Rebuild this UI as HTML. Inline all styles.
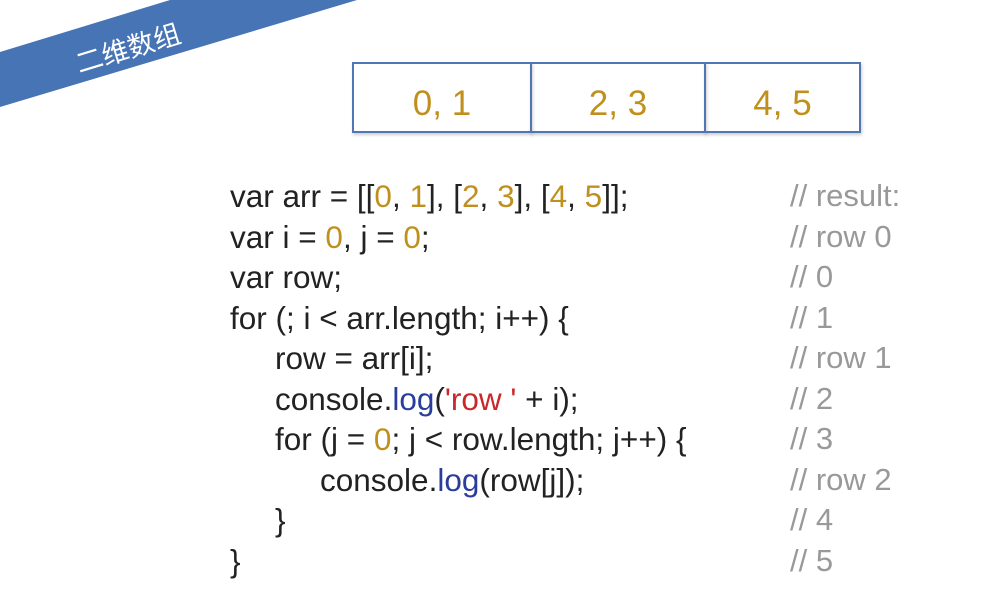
<!DOCTYPE html>
<html><head><meta charset="utf-8"><style>
html,body{margin:0;padding:0;background:#fff;}
body{width:1007px;height:610px;position:relative;overflow:hidden;font-family:"Liberation Sans","Noto Sans CJK SC",sans-serif;}
.box{position:absolute;top:62px;height:71px;border:2px solid #5077b4;box-sizing:border-box;color:#c0901e;font-size:35px;line-height:80px;text-align:center;box-shadow:1px 2px 3px rgba(0,0,0,.2);}
.code{position:absolute;left:230px;top:176px;font-size:31.5px;line-height:40.5px;color:#222;white-space:pre;}
.code div{height:40.5px}
.i1{padding-left:45px}.i2{padding-left:90px}
.cm{position:absolute;left:790px;top:176px;font-size:31px;line-height:40.5px;color:#999;white-space:pre;}
.n{color:#c0901e}.f{color:#2a3c9c}.s{color:#c8282a}
</style></head><body>
<svg width="1007" height="610" style="position:absolute;left:0;top:0">
<polygon points="0,52 170,0 357,0 0,107" fill="#4674b4"/>
<text x="128" y="58" fill="#fff" font-size="27" font-family="Noto Sans CJK SC, sans-serif" text-anchor="middle" transform="rotate(-17 128 48)">二维数组</text>
</svg>
<div class="box" style="left:352px;width:180px;">0, 1</div>
<div class="box" style="left:530px;width:176px;">2, 3</div>
<div class="box" style="left:704px;width:157px;">4, 5</div>
<div class="code"><div>var arr = [[<span class="n">0</span>, <span class="n">1</span>], [<span class="n">2</span>, <span class="n">3</span>], [<span class="n">4</span>, <span class="n">5</span>]];</div><div>var i = <span class="n">0</span>, j = <span class="n">0</span>;</div><div>var row;</div><div>for (; i &lt; arr.length; i++) {</div><div class="i1">row = arr[i];</div><div class="i1">console.<span class="f">log</span>(<span class="s">'row '</span> + i);</div><div class="i1">for (j = <span class="n">0</span>; j &lt; row.length; j++) {</div><div class="i2">console.<span class="f">log</span>(row[j]);</div><div class="i1">}</div><div>}</div></div>
<div class="cm">// result:
// row 0
// 0
// 1
// row 1
// 2
// 3
// row 2
// 4
// 5</div>
</body></html>
